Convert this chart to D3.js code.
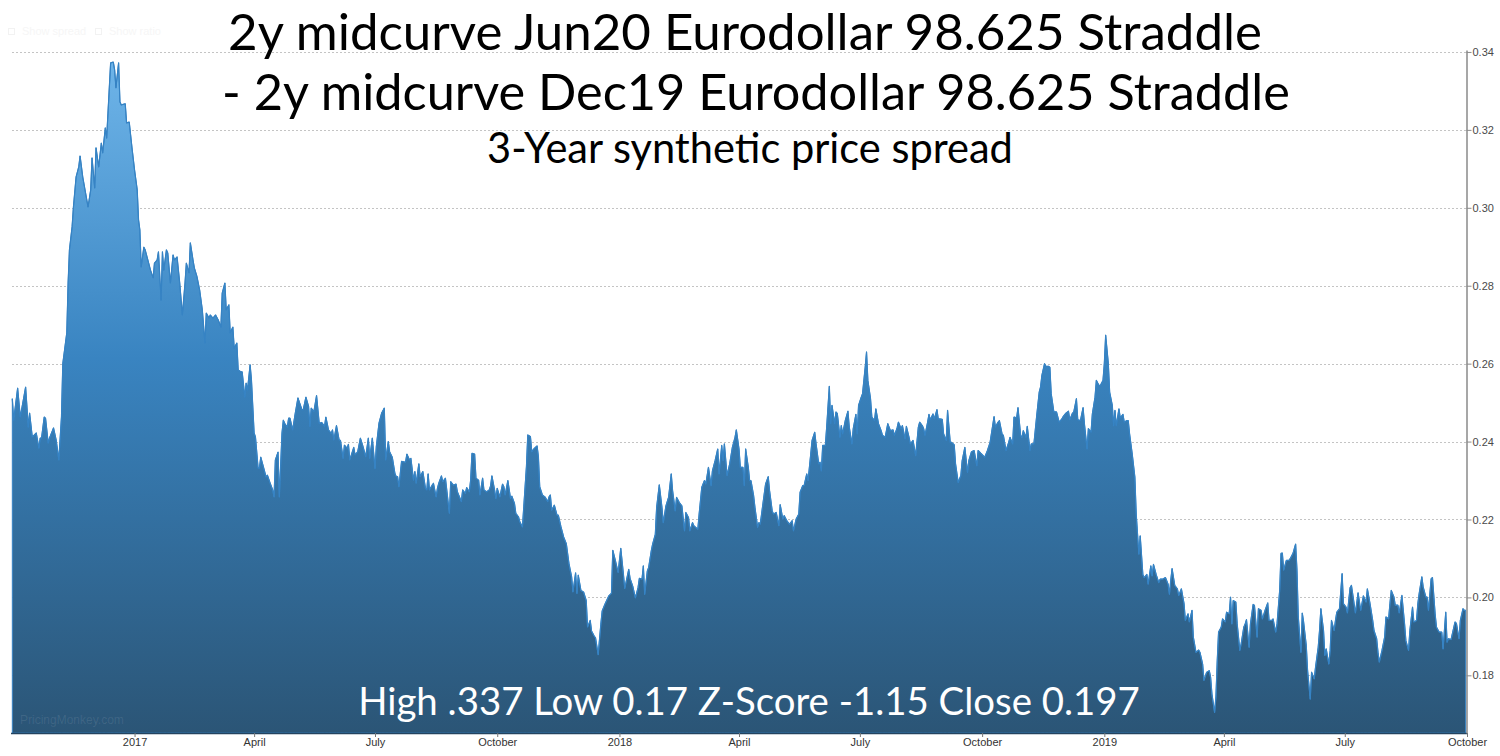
<!DOCTYPE html>
<html><head><meta charset="utf-8">
<script src="https://cdn.jsdelivr.net/npm/d3@7"></script>
<style>body{margin:0;background:#fff;} svg{display:block;}</style>
</head><body><svg id="chart" width="1500" height="756"></svg>
<script>
// ---------------- DATA ----------------
const startDate = "2016-09-30";
const endDate = "2019-10-01";
// [calendar days since startDate, spread value]
const spreadSeries = [
[1,.251],[2,.2455],[5,.2537],[7,.2463],[11,.254],[13,.2437],[14,.2473],[16,.2412],[19,.2422],[21,.2383],[22,.2409],[23,.2409],[25,.2463],[26,.246],[28,.2396],[29,.2409],[32,.2435],[34,.2404],[36,.2353],[38,.2463],[39,.26],[42,.2679],[43,.2807],[44,.2892],[46,.2951],[47,.3002],[49,.3079],[51,.3105],[52,.3133],[54,.3079],[58,.3002],[60,.3046],[61,.3128],[63,.3051],[64,.3154],[66,.3105],[68,.3166],[69,.3141],[71,.3205],[72,.3179],[73,.3243],[75,.3372],[77,.3374],[78,.3354],[79,.3308],[81,.3372],[82,.3272],[83,.3264],[86,.3267],[87,.3218],[89,.322],[91,.3156],[93,.3097],[95,.3046],[96,.2969],[97,.2943],[98,.2848],[100,.2899],[101,.2892],[103,.2866],[105,.284],[107,.282],[108,.2858],[110,.2866],[111,.2887],[113,.2763],[114,.2887],[115,.284],[117,.2892],[118,.2884],[120,.2807],[122,.2879],[123,.2866],[125,.2874],[127,.2807],[129,.2725],[131,.2807],[132,.2858],[134,.2833],[135,.291],[137,.2866],[138,.2846],[140,.2823],[142,.2789],[144,.2738],[146,.2653],[147,.273],[149,.2717],[150,.2725],[152,.2717],[154,.2725],[156,.2712],[158,.2694],[159,.2781],[161,.2807],[162,.2738],[164,.2751],[165,.2679],[167,.2694],[168,.264],[170,.2653],[171,.2584],[173,.2579],[174,.2579],[176,.2514],[177,.255],[178,.2532],[180,.2597],[181,.2558],[183,.2422],[184,.2412],[186,.2332],[187,.2332],[188,.236],[190,.2335],[192,.2309],[193,.2314],[195,.2294],[197,.2276],[198,.2258],[199,.2353],[201,.2373],[202,.2258],[204,.2422],[205,.2455],[206,.2447],[208,.2437],[209,.246],
[210,.246],[212,.243],[214,.2473],[216,.2512],[219,.2482],[220,.2482],[222,.2514],[224,.249],[225,.2439],[226,.2486],[228,.2477],[230,.2518],[232,.2447],[234,.2449],[236,.2439],[237,.2463],[239,.243],[241,.2421],[242,.243],[243,.2404],[245,.2441],[247,.2404],[248,.2403],[250,.2357],[251,.2391],[253,.2383],[254,.2393],[255,.2353],[258,.2385],[259,.2366],[261,.2374],[263,.2409],[265,.2387],[267,.2361],[269,.2409],[270,.2357],[272,.2409],[274,.2331],[275,.2387],[277,.2447],[279,.2473],[281,.2486],[282,.2353],[284,.24],[285,.2374],[287,.236],[289,.2318],[290,.231],[291,.231],[292,.2284],[294,.2349],[297,.2347],[298,.2368],[300,.2353],[301,.2357],[303,.2301],[304,.2323],[305,.2293],[307,.2343],[308,.231],[310,.2323],[312,.228],[313,.2276],[314,.2317],[315,.2276],[317,.2288],[318,.2293],[320,.2258],[321,.228],[322,.2293],[324,.2312],[325,.2297],[327,.2306],[328,.2276],[330,.2216],[331,.2297],[333,.2288],[335,.2291],[336,.2271],[337,.2263],[339,.2246],[340,.2276],[342,.2267],[343,.2282],[345,.2271],[346,.2301],[347,.237],[349,.2368],[350,.2306],[352,.2301],[353,.2263],[355,.2306],[356,.2276],[358,.2271],[360,.2276],[361,.2286],[362,.2312],[364,.2276],[365,.2254],[366,.228],[368,.2258],[370,.2291],[371,.2284],[372,.2263],[374,.23],[376,.2254],[377,.226],[379,.2241],[380,.2216],[382,.2207],[383,.2194],[385,.2181],[386,.2233],[388,.2336],[389,.2417],[391,.2413],[392,.2374],[394,.2383],[396,.2389],[397,.2361],[398,.2284],[400,.2263],[402,.2258],[404,.2246],[405,.2258],[406,.2263],[407,.2224],[409,.2237],[411,.2211],[412,.2211],[414,.2181],[416,.2155],[418,.2138],[420,.2087],[422,.2053],[423,.2014],[425,.2063],[426,.201],[427,.2057],[429,.2018],[431,.2014],[433,.1992],[434,.1924],[436,.1941],
[437,.1914],[439,.1901],[440,.1896],[442,.1853],[444,.1931],[445,.1965],[447,.1982],[450,.2004],[452,.2011],[453,.2121],[455,.2094],[457,.2064],[459,.2126],[461,.2059],[462,.2023],[465,.2072],[466,.2049],[468,.2029],[470,.1999],[472,.2025],[473,.2049],[475,.2047],[476,.2081],[477,.2008],[479,.2068],[480,.2077],[482,.212],[483,.2137],[485,.2162],[486,.2231],[488,.2289],[490,.2231],[491,.2192],[493,.2235],[495,.2257],[497,.2317],[498,.2274],[500,.2222],[501,.2257],[503,.2244],[505,.2235],[507,.2171],[508,.2218],[510,.2205],[511,.2171],[513,.2192],[514,.2184],[517,.2175],[518,.2214],[520,.2283],[522,.23],[523,.2291],[525,.2334],[527,.2287],[528,.2325],[530,.2351],[532,.2381],[533,.2317],[535,.239],[536,.2351],[537,.2394],[539,.2313],[541,.2343],[543,.2385],[545,.2411],[546,.243],[548,.2381],[549,.2334],[551,.2334],[552,.2287],[553,.2381],[555,.2334],[556,.23],[557,.23],[559,.2261],[560,.2231],[562,.218],[563,.2192],[564,.2188],[566,.224],[568,.2291],[570,.231],[571,.2274],[573,.2222],[574,.2214],[576,.2218],[578,.2184],[579,.2238],[581,.2201],[582,.221],[584,.2197],[586,.2188],[588,.2197],[589,.2171],[591,.2201],[593,.2214],[594,.227],[596,.2287],[597,.2287],[599,.2317],[600,.23],[602,.2368],[603,.2403],[605,.2424],[606,.2394],[608,.2343],[609,.2347],[610,.2325],[611,.239],[613,.239],[614,.2437],[616,.2542],[617,.2446],[618,.2493],[620,.2446],[621,.2476],[622,.2472],[624,.2411],[625,.2441],[626,.242],[628,.2454],[630,.2478],[631,.2437],[633,.2394],[634,.2433],[636,.247],[637,.242],[638,.2493],[640,.2514],[641,.2523],[643,.2591],[644,.263],[645,.2557],[647,.251],[648,.2463],[650,.2454],[651,.2484],[653,.2446],
[655,.2428],[656,.2416],[658,.2411],[660,.2446],[662,.2428],[664,.243],[665,.2416],[667,.2435],[668,.245],[670,.2433],[671,.2441],[673,.2407],[674,.2439],[676,.2411],[677,.2394],[679,.2403],[681,.2364],[683,.2437],[684,.245],[686,.2441],[687,.2433],[688,.2416],[690,.245],[691,.247],[692,.2456],[694,.2471],[695,.2458],[697,.2482],[698,.2458],[699,.2458],[701,.2457],[702,.242],[704,.2403],[705,.248],[707,.2398],[708,.2398],[710,.2392],[711,.2343],[713,.2295],[715,.2313],[716,.2351],[718,.2385],[720,.2321],[721,.2351],[723,.2374],[725,.2377],[727,.2338],[728,.2377],[730,.237],[733,.236],[735,.2377],[737,.2398],[738,.242],[740,.2464],[741,.2437],[743,.245],[744,.2454],[746,.242],[747,.2416],[749,.2377],[751,.2398],[752,.2411],[754,.2394],[755,.2463],[757,.2461],[758,.2487],[760,.2416],[761,.241],[762,.2428],[764,.2411],[765,.2439],[767,.2377],[768,.2394],[770,.2394],[772,.2463],[774,.2527],[775,.254],[776,.257],[778,.26],[779,.2593],[781,.2593],[782,.2591],[783,.2523],[785,.2476],[787,.2476],[789,.245],[791,.2458],[792,.2464],[794,.2473],[796,.2478],[797,.2456],[799,.2473],[800,.2476],[802,.251],[803,.2456],[805,.2454],[807,.2487],[808,.2446],[810,.2381],[811,.2433],[813,.2424],[814,.2471],[816,.2514],[817,.2557],[819,.2544],[820,.2544],[822,.2557],[823,.26],[824,.2673],[826,.26],[827,.2527],[829,.2493],[830,.2441],[831,.248],[832,.2441],[834,.2484],[835,.2461],[837,.247],[838,.245],[840,.2454],[841,.2454],[842,.242],[844,.2368],[846,.2308],[847,.2214],[849,.2111],[850,.2158],[852,.2059],[853,.2051],[855,.2059],[856,.2034],[858,.2081],[859,.2055],[860,.2085],[862,.2059],[864,.2038],[865,.2047],[867,.2047],[869,.2051],[871,.2034],[872,.2008],
[873,.2044],[874,.2074],[876,.2031],[878,.2022],[879,.2005],[881,.2022],[883,.1984],[884,.1941],[886,.1958],[887,.1937],[889,.1967],[890,.1898],[892,.1859],[894,.1865],[895,.1859],[897,.1829],[898,.1787],[900,.1808],[902,.1812],[903,.1795],[904,.1752],[906,.1705],[907,.1744],[908,.1838],[909,.1911],[911,.1924],[912,.1945],[914,.1937],[915,.1962],[917,.1958],[918,.2001],[919,.1932],[920,.1992],[922,.1988],[923,.1932],[925,.1864],[926,.1881],[928,.1924],[929,.1932],[930,.1943],[932,.1872],[933,.1932],[935,.1982],[936,.198],[938,.1898],[939,.1971],[941,.1967],[942,.1945],[944,.1967],[946,.1986],[947,.1941],[949,.1941],[950,.1945],[952,.1911],[953,.1932],[955,.2018],[956,.2113],[957,.2114],[958,.207],[960,.2095],[962,.2095],[963,.21],[965,.2113],[967,.2137],[968,.207],[969,.195],[971,.1859],[972,.196],[973,.1937],[975,.1877],[976,.1812],[978,.1739],[979,.1808],[981,.1791],[982,.1821],[984,.1872],[985,.1915],[986,.1971],[988,.1915],[989,.1851],[990,.1868],[992,.1829],[993,.1864],[994,.1941],[996,.1915],[997,.1941],[998,.1962],[1000,.1971],[1002,.2061],[1003,.1984],[1005,.1975],[1006,.196],[1008,.2025],[1009,.2031],[1011,.1984],[1012,.196],[1014,.2012],[1016,.1967],[1018,.2004],[1020,.1988],[1021,.2022],[1023,.1984],[1025,.1941],[1026,.1915],[1028,.1894],[1029,.1859],[1030,.1834],[1032,.1864],[1034,.1898],[1035,.195],[1037,.1945],[1038,.1984],[1039,.2018],[1041,.2001],[1042,.198],[1044,.198],[1045,.196],[1047,.2005],[1049,.1932],[1050,.1889],[1052,.1864],[1053,.1915],[1055,.1975],[1056,.1937],[1058,.1941],[1059,.1984],[1060,.201],[1062,.2053],[1063,.2027],[1065,.2001],[1066,.2001],[1067,.1967],[1069,.2048],[1070,.2051],[1072,.1958],[1073,.1924],[1075,.1911],[1077,.1911],[1078,.1868],[1080,.1962],[1081,.1885],[1082,.1894],[1084,.1892],[1085,.1907],[1087,.1937],[1088,.1934],[1090,.1894],[1091,.1941],[1093,.1971],[1094,.1967],[1095,.1967]
];
const yTicks = [0.18, 0.20, 0.22, 0.24, 0.26, 0.28, 0.30, 0.32, 0.34];
const xTickDates = ["2017-01-01","2017-04-01","2017-07-01","2017-10-01","2018-01-01","2018-04-01","2018-07-01","2018-10-01","2019-01-01","2019-04-01","2019-07-01","2019-10-01"];
const monthNames = ["January","February","March","April","May","June","July","August","September","October","November","December"];
const titleLines = ["2y midcurve Jun20 Eurodollar 98.625 Straddle", "- 2y midcurve Dec19 Eurodollar 98.625 Straddle"];
const subtitle = "3-Year synthetic price spread";
const statsLine = "High .337 Low 0.17 Z-Score -1.15 Close 0.197";
const watermark = "PricingMonkey.com";
const controls = ["Show spread", "Show ratio"];

// ---------------- CHART ----------------
const svg = d3.select("#chart");
const parse = d3.timeParse("%Y-%m-%d");
const t0 = parse(startDate);
const data = spreadSeries.map(([d, v]) => ({date: d3.timeDay.offset(t0, d), value: v}));

const plot = {left: 11, right: 1467, top: 50, bottom: 733};
const x = d3.scaleTime().domain([t0, parse(endDate)]).range([plot.left, plot.right]);
const y = d3.scaleLinear().domain([0.1652, 0.3405]).range([plot.bottom, plot.top]);

const defs = svg.append("defs");
const grad = defs.append("linearGradient").attr("id", "fillGrad")
  .attr("gradientUnits", "userSpaceOnUse")
  .attr("x1", 0).attr("x2", 0).attr("y1", y(0.34)).attr("y2", plot.bottom);
grad.append("stop").attr("offset", "0").attr("stop-color", "#70b6ea");
grad.append("stop").attr("offset", "0.45").attr("stop-color", "#3984c1");
grad.append("stop").attr("offset", "1").attr("stop-color", "#2b5576");

// gridlines
svg.append("g").selectAll("line").data(yTicks).join("line")
  .attr("x1", 12).attr("x2", plot.right - 1)
  .attr("y1", d => Math.round(y(d)) + 0.5).attr("y2", d => Math.round(y(d)) + 0.5)
  .attr("stroke", "#c4c4c4").attr("stroke-width", 1).attr("stroke-dasharray", "2,2");

// faint controls
const ctl = svg.append("g").attr("fill", "#f6f6f6");
ctl.append("rect").attr("x", 8.5).attr("y", 28.5).attr("width", 6).attr("height", 6).attr("fill", "none").attr("stroke", "#f2f2f2");
ctl.append("text").attr("x", 22).attr("y", 35).attr("font-family", "Liberation Sans").attr("font-size", 11).text(controls[0]);
ctl.append("rect").attr("x", 95.5).attr("y", 28.5).attr("width", 6).attr("height", 6).attr("fill", "none").attr("stroke", "#f2f2f2");
ctl.append("text").attr("x", 109).attr("y", 35).attr("font-family", "Liberation Sans").attr("font-size", 11).text(controls[1]);

// area
const area = d3.area().x(d => x(d.date)).y0(plot.bottom).y1(d => y(d.value));
svg.append("path").datum(data).attr("d", area).attr("fill", "url(#fillGrad)")
  .attr("stroke", "#3683c4").attr("stroke-width", 1).attr("stroke-linejoin", "round");
const line = d3.line().x(d => x(d.date)).y(d => y(d.value));
svg.append("path").datum(data).attr("d", line).attr("fill", "none")
  .attr("stroke", "#3683c4").attr("stroke-width", 1.2).attr("stroke-linejoin", "round");

// bottom line
svg.append("line").attr("x1", plot.left).attr("x2", plot.right).attr("y1", plot.bottom + 0.5).attr("y2", plot.bottom + 0.5)
  .attr("stroke", "#23435f").attr("stroke-width", 1.5);

// right axis
const yAxis = d3.axisRight(y).tickValues(yTicks).tickSize(5).tickSizeOuter(0).tickFormat(d3.format(".2f"));
const gy = svg.append("g").attr("transform", `translate(${plot.right - 0.5},0)`).call(yAxis);
gy.select(".domain").attr("stroke", "#8a8a8a").attr("stroke-width", 1.5);
gy.selectAll(".tick line").attr("stroke", "#8a8a8a");
gy.selectAll(".tick text").attr("font-family", "Liberation Sans").attr("font-size", 11).attr("fill", "#4a4a4a").attr("x", 6);

// bottom axis
const xAxis = d3.axisBottom(x).tickValues(xTickDates.map(parse)).tickSize(4).tickSizeOuter(0)
  .tickFormat(d => d.getMonth() === 0 ? d3.timeFormat("%Y")(d) : monthNames[d.getMonth()]);
const gx = svg.append("g").attr("transform", `translate(0,${plot.bottom})`).call(xAxis);
gx.select(".domain").remove();
gx.selectAll(".tick line").attr("stroke", "#777");
gx.selectAll(".tick text").attr("font-family", "Liberation Sans Narrow, Liberation Sans").attr("font-size", 11).attr("fill", "#333").attr("y", 5);

// watermark
svg.append("text").attr("x", 20).attr("y", 724).attr("font-family", "Liberation Sans").attr("font-size", 12)
  .attr("fill", "#ffffff").attr("fill-opacity", 0.1).text(watermark);

// titles
function fit(sel, target) {
  const w = sel.node().getComputedTextLength();
  sel.attr("font-size", parseFloat(sel.attr("font-size")) * target / w);
}
const tfont = "Lato, 'Open Sans', sans-serif";
const t1 = svg.append("text").attr("x", 745).attr("y", 50).attr("text-anchor", "middle")
  .attr("font-family", tfont).attr("font-size", 46).attr("fill", "#000").text(titleLines[0]);
fit(t1, 1034);
const t2 = svg.append("text").attr("x", 756).attr("y", 110).attr("text-anchor", "middle")
  .attr("font-family", tfont).attr("font-size", 46).attr("fill", "#000").text(titleLines[1]);
fit(t2, 1068);
const t3 = svg.append("text").attr("x", 750).attr("y", 163).attr("text-anchor", "middle")
  .attr("font-family", tfont).attr("font-size", 34).attr("fill", "#000").text(subtitle);
fit(t3, 526);
const t4 = svg.append("text").attr("x", 749).attr("y", 715).attr("text-anchor", "middle")
  .attr("font-family", tfont).attr("font-size", 38).attr("fill", "#fff").text(statsLine);
fit(t4, 782);
</script></body></html>
